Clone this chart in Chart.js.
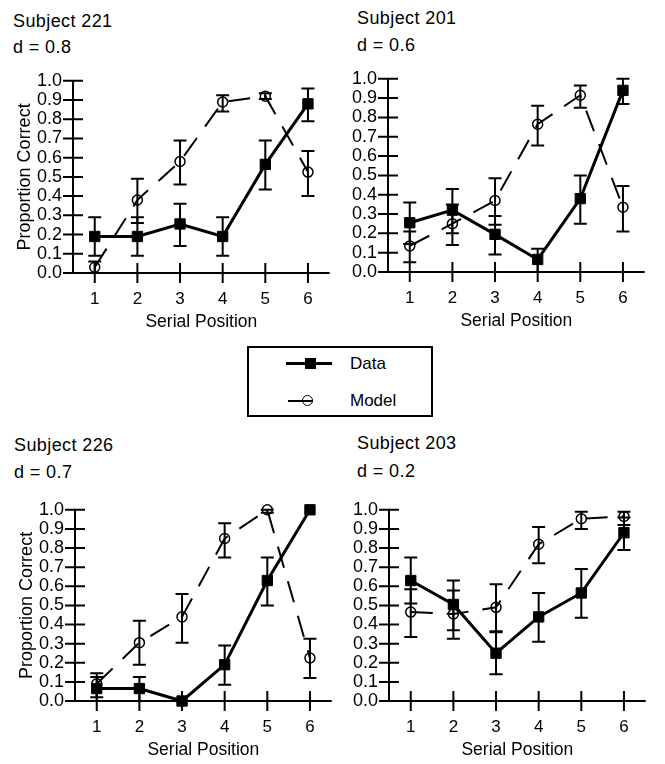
<!DOCTYPE html>
<html>
<head>
<meta charset="utf-8">
<script src="https://cdn.jsdelivr.net/npm/chart.js@4.4.1/dist/chart.umd.min.js"></script>
<style>
  body { margin: 0; background: #fff; width: 665px; height: 764px; position: relative; overflow: hidden;
         font-family: "Liberation Sans", Arial, sans-serif; color: #000; }
  canvas { position: absolute; }
  .ttl { position: absolute; font-size: 18px; line-height: 18px; letter-spacing: 0.4px; white-space: nowrap; }
  #leg { position: absolute; left: 247px; top: 346px; width: 182px; height: 67px; border: 2px solid #000; }
  #leg div { position: absolute; }
  #leg .txt { font-size: 17px; line-height: 20px; white-space: nowrap; }
</style>
</head>
<body>

<div class="ttl" style="left:13px;top:12px">Subject 221</div>
<div class="ttl" style="left:13px;top:38px">d = 0.8</div>
<div class="ttl" style="left:357px;top:9px">Subject 201</div>
<div class="ttl" style="left:357px;top:36px">d = 0.6</div>
<div class="ttl" style="left:14px;top:436px">Subject 226</div>
<div class="ttl" style="left:14px;top:463px">d = 0.7</div>
<div class="ttl" style="left:357px;top:434px">Subject 203</div>
<div class="ttl" style="left:357px;top:462px">d = 0.2</div>

<canvas id="c221"></canvas>
<canvas id="c201"></canvas>
<canvas id="c226"></canvas>
<canvas id="c203"></canvas>

<div id="leg">
  <div style="left:37px;top:14px;width:46px;height:3px;background:#000"></div>
  <div style="left:56px;top:10px;width:11px;height:11px;background:#000"></div>
  <div class="txt" style="left:101px;top:6px">Data</div>
  <div style="left:39px;top:52px;width:25px;height:2px;background:#000"></div>
  <div style="left:53px;top:47px;width:9px;height:9px;border:1.5px solid #000;border-radius:50%"></div>
  <div class="txt" style="left:101px;top:43px">Model</div>
</div>

<script>
// serial positions and axis ticks
var positions = [1, 2, 3, 4, 5, 6];
var yTicks = [0.0, 0.1, 0.2, 0.3, 0.4, 0.5, 0.6, 0.7, 0.8, 0.9, 1.0];

// Subject 221
var data221   = [0.19, 0.19, 0.255, 0.19, 0.565, 0.88];
var data221Lo = [0.09, 0.09, 0.14, 0.09, 0.435, 0.79];
var data221Hi = [0.29, 0.29, 0.36, 0.29, 0.69, 0.96];
var model221   = [0.03, 0.38, 0.58, 0.89, 0.92, 0.525];
var model221Lo = [0.0, 0.26, 0.46, 0.84, 0.905, 0.40];
var model221Hi = [0.06, 0.49, 0.69, 0.925, 0.935, 0.635];

// Subject 201
var data201   = [0.255, 0.32, 0.195, 0.065, 0.38, 0.94];
var data201Lo = [0.145, 0.2, 0.09, 0.0, 0.25, 0.87];
var data201Hi = [0.36, 0.43, 0.29, 0.12, 0.5, 1.0];
var model201   = [0.135, 0.25, 0.37, 0.765, 0.915, 0.335];
var model201Lo = [0.05, 0.14, 0.245, 0.655, 0.85, 0.21];
var model201Hi = [0.21, 0.35, 0.485, 0.86, 0.965, 0.445];

// Subject 226
var data226   = [0.065, 0.065, 0.0, 0.19, 0.63, 1.0];
var data226Lo = [0.0, 0.0, 0.0, 0.085, 0.5, 1.0];
var data226Hi = [0.125, 0.125, 0.0, 0.29, 0.75, 1.0];
var model226   = [0.09, 0.305, 0.44, 0.85, 1.0, 0.225];
var model226Lo = [0.02, 0.19, 0.305, 0.75, 0.985, 0.12];
var model226Hi = [0.145, 0.42, 0.56, 0.93, 1.0, 0.325];

// Subject 203
var data203   = [0.63, 0.505, 0.25, 0.44, 0.565, 0.88];
var data203Lo = [0.51, 0.37, 0.14, 0.31, 0.435, 0.79];
var data203Hi = [0.75, 0.63, 0.36, 0.565, 0.69, 0.96];
var model203   = [0.465, 0.455, 0.49, 0.82, 0.953, 0.965];
var model203Lo = [0.335, 0.325, 0.365, 0.72, 0.9, 0.92];
var model203Hi = [0.585, 0.578, 0.61, 0.91, 0.99, 0.99];

var FONT = "'Liberation Sans', Arial, sans-serif";

// axes drawn as crossing lines with ticks through them
var crossAxesPlugin = {
  id: "crossAxes",
  beforeDatasetsDraw: function(chart) {
    var ctx = chart.ctx, a = chart.chartArea;
    var xs = chart.scales.x, ys = chart.scales.y;
    ctx.save();
    ctx.strokeStyle = "#000";
    ctx.lineWidth = 2;
    ctx.beginPath();
    ctx.moveTo(a.left, a.top - 1);   ctx.lineTo(a.left, a.bottom);
    ctx.moveTo(a.left, a.bottom);    ctx.lineTo(a.right, a.bottom);
    ys.ticks.forEach(function(t) {
      var y = ys.getPixelForValue(t.value);
      ctx.moveTo(a.left - 10, y); ctx.lineTo(a.left + 10, y);
    });
    xs.ticks.forEach(function(t) {
      var x = xs.getPixelForValue(t.value);
      ctx.moveTo(x, a.bottom - 10); ctx.lineTo(x, a.bottom + 10);
    });
    ctx.stroke();
    ctx.restore();
  }
};

// error bars with caps, from errLo / errHi on each dataset
var errorBarPlugin = {
  id: "errBars",
  afterDatasetsDraw: function(chart) {
    var ctx = chart.ctx;
    var xs = chart.scales.x, ys = chart.scales.y;
    chart.data.datasets.forEach(function(ds) {
      if (!ds.errLo) return;
      ctx.save();
      ctx.strokeStyle = "#000";
      ctx.lineWidth = 2;
      ds.data.forEach(function(pt, i) {
        var x   = xs.getPixelForValue(pt.x);
        var yLo = ys.getPixelForValue(ds.errLo[i]);
        var yHi = ys.getPixelForValue(ds.errHi[i]);
        if (Math.abs(yLo - yHi) < 0.5) return;
        ctx.beginPath();
        ctx.moveTo(x, yHi); ctx.lineTo(x, yLo);
        ctx.moveTo(x - 6.5, yHi); ctx.lineTo(x + 6.5, yHi);
        ctx.moveTo(x - 6.5, yLo); ctx.lineTo(x + 6.5, yLo);
        ctx.stroke();
      });
      ctx.restore();
    });
  }
};

function toPts(vals) {
  return positions.map(function(p, i) { return { x: p, y: vals[i] }; });
}

// box = plot area in page pixels
function makePanel(id, box, dv, dLo, dHi, mv, mLo, mHi, yTitle) {
  var PADL = 75, PADT = 20, PADR = 6, XH = 62;
  var canvas = document.getElementById(id);
  canvas.width  = box.r - box.l + PADL + PADR;
  canvas.height = box.b - box.t + PADT + XH;
  canvas.style.left = (box.l - PADL) + "px";
  canvas.style.top  = (box.t - PADT) + "px";

  return new Chart(canvas, {
    type: "line",
    data: {
      datasets: [
        {
          label: "Model", data: toPts(mv), errLo: mLo, errHi: mHi,
          borderColor: "#000", borderWidth: 2, borderDash: [22, 14],
          pointStyle: "circle", pointRadius: 5, pointBorderWidth: 1.5,
          pointBorderColor: "#000", pointBackgroundColor: "rgba(0,0,0,0)",
          tension: 0, clip: false, order: 1
        },
        {
          label: "Data", data: toPts(dv), errLo: dLo, errHi: dHi,
          borderColor: "#000", borderWidth: 3,
          pointStyle: "rect", pointRadius: 7.3, pointBorderWidth: 1,
          pointBorderColor: "#000", pointBackgroundColor: "#000",
          tension: 0, clip: false, order: 0
        }
      ]
    },
    options: {
      responsive: false, animation: false, devicePixelRatio: 1,
      layout: { padding: { left: 0, top: PADT, right: PADR, bottom: 0 } },
      plugins: { legend: { display: false }, tooltip: { enabled: false } },
      scales: {
        x: {
          type: "linear", min: 0.49, max: 6.51,
          grid: { display: false, drawTicks: false }, border: { display: false },
          afterBuildTicks: function(s) { s.ticks = positions.map(function(v) { return { value: v }; }); },
          afterFit: function(s) { s.height = XH; },
          ticks: { autoSkip: false, maxRotation: 0, padding: 16, color: "#000", font: { family: FONT, size: 17 },
                   callback: function(v) { return String(v); } },
          title: { display: true, text: "Serial Position", color: "#000",
                   font: { family: FONT, size: 17.5 }, padding: { top: 0, bottom: 2 } }
        },
        y: {
          type: "linear", min: 0, max: 1,
          grid: { display: false, drawTicks: false }, border: { display: false },
          afterBuildTicks: function(s) { s.ticks = yTicks.map(function(v) { return { value: v }; }); },
          afterFit: function(s) { s.width = PADL; },
          ticks: { autoSkip: false, padding: 11, color: "#000", font: { family: FONT, size: 18 },
                   callback: function(v) { return Number(v).toFixed(1); } },
          title: { display: yTitle, text: "Proportion Correct", color: "#000",
                   font: { family: FONT, size: 18 }, padding: { top: 16, bottom: 0 } }
        }
      }
    },
    plugins: [crossAxesPlugin, errorBarPlugin]
  });
}

makePanel("c221", { l: 72.5, t: 79, r: 332, b: 273 },
  data221, data221Lo, data221Hi, model221, model221Lo, model221Hi, true);
makePanel("c201", { l: 388, t: 77, r: 647, b: 272 },
  data201, data201Lo, data201Hi, model201, model201Lo, model201Hi, false);
makePanel("c226", { l: 75, t: 508, r: 334, b: 701 },
  data226, data226Lo, data226Hi, model226, model226Lo, model226Hi, true);
makePanel("c203", { l: 389, t: 508, r: 648, b: 701 },
  data203, data203Lo, data203Hi, model203, model203Lo, model203Hi, false);
</script>
</body>
</html>
